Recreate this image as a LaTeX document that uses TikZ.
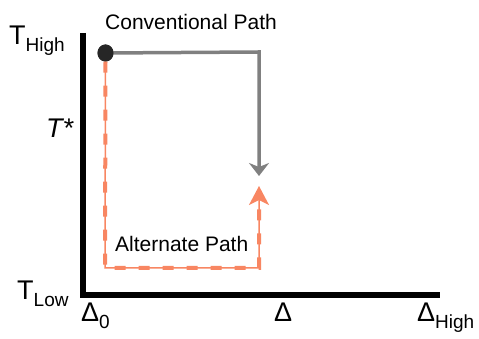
\documentclass[tikz,border=0pt]{standalone}
\usepackage{fontspec}
\setmainfont{Liberation Sans}
\usetikzlibrary{arrows.meta,shapes.geometric}
\definecolor{pathgray}{RGB}{128,128,128}
\definecolor{altorange}{RGB}{248,134,98}
\tikzset{
  axisline/.style={line width=6pt, black},
  convline/.style={line width=3.5pt, pathgray},
  altthin/.style={line width=1.5pt, altorange},
  altdash/.style={line width=4pt, altorange, dash pattern=on 11pt off 13pt},
  dotshape/.style={draw=none, fill=black!85, ellipse, minimum width=16pt, minimum height=17pt, inner sep=0pt},
  lbl/.style={inner sep=0pt, anchor=base west, font=\fontsize{21}{21}\selectfont},
  big/.style={inner sep=0pt, anchor=base west, font=\fontsize{27}{27}\selectfont},
}
\newcommand{\subtxt}[1]{\raisebox{-7pt}{\fontsize{19}{19}\selectfont #1}}
\begin{document}
\begin{tikzpicture}[x=1pt,y=1pt]
\useasboundingbox (0,0) rectangle (479,339);
% axes
\coordinate (ytop) at (83,306);
\coordinate (origin) at (83,44);
\coordinate (xend) at (440,44);
\draw[axisline] (ytop) -- (origin) -- (xend);
% start dot
\node[dotshape] (start) at (105.5,286) {};
% conventional path
\coordinate (c1) at (259,287);
\coordinate (cend) at (259,163);
\draw[convline, -{Stealth[width=20pt,length=13pt,inset=4pt]}] (start.center) -- (c1) -- (cend);
% alternate path
\coordinate (a1) at (105,71);
\coordinate (a2) at (259,71);
\coordinate (aend) at (259,153);
\coordinate (adashend) at (259,140);
\draw[altthin, -{Stealth[width=20pt,length=19pt,inset=5pt]}] (start.center) -- (a1) -- (a2) -- (aend);
\draw[altdash] (start.south) -- (a1) -- (a2) -- (adashend);
\node[dotshape] at (start) {};
% labels
\node[lbl] (conv) at (105,309) {Conventional Path};
\node[lbl] (alt) at (115,87) {Alternate Path};
\node[big] (thigh) at (9,294) {T\subtxt{High}};
\node[big] (tstar) at (46,201) {\itshape T*};
\node[big] (tlow) at (17,39) {T\subtxt{Low}};
\node[big] (d0) at (81,17) {Δ\subtxt{0}};
\node[big] (dmid) at (274,17) {Δ};
\node[big] (dhigh) at (417,17) {Δ\subtxt{High}};
\end{tikzpicture}
\end{document}
